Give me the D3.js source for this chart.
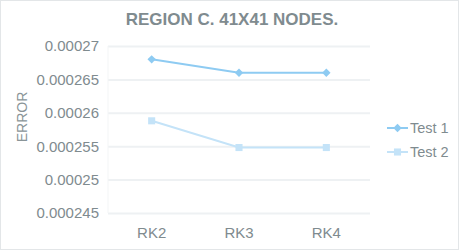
<!DOCTYPE html>
<html lang="en">
<head>
    <meta charset="UTF-8">
    <title>Region C. 41x41 nodes</title>
    <style>
        body { margin: 0; background: #fff; }
        svg { display: block; font-family: Arial, "Liberation Sans", sans-serif; }
    </style>
    <script src="https://d3js.org/d3.v7.min.js"></script>
</head>
<body>
    <div id="chart"></div>
    <script>
        const methods = ["RK2", "RK3", "RK4"];
        const test1 = [0.000268, 0.000266, 0.000266];
        const test2 = [0.0002588, 0.0002548, 0.0002548];
        const yTicks = [0.000245, 0.00025, 0.000255, 0.00026, 0.000265, 0.00027];
        const seriesNames = ["Test 1", "Test 2"];

        const width = 459, height = 250;
        const margin = { top: 46, right: 89, bottom: 37, left: 108 };
        const textColor = "#7f8b8f";
        const gridColor = "#eef1f3";

        const svg = d3.select("#chart").append("svg")
            .attr("width", width)
            .attr("height", height);

        // outer border
        svg.append("rect")
            .attr("x", 0.5).attr("y", 0.5)
            .attr("width", width - 1).attr("height", height - 1)
            .attr("fill", "#fff")
            .attr("stroke", "#e3e6e8");

        const x = d3.scaleBand()
            .domain(methods)
            .range([margin.left, width - margin.right]);

        const y = d3.scaleLinear()
            .domain([0.000245, 0.00027])
            .range([height - margin.bottom, margin.top]);

        // gridlines + y labels
        const yAxis = svg.append("g")
            .attr("transform", `translate(${margin.left},0)`)
            .call(d3.axisLeft(y)
                .tickValues(yTicks)
                .tickSize(-(width - margin.left - margin.right))
                .tickPadding(9)
                .tickFormat(d => String(+d.toPrecision(6))));
        yAxis.select(".domain").remove();
        yAxis.selectAll(".tick line").attr("stroke", gridColor).attr("stroke-width", 2);
        yAxis.selectAll(".tick text")
            .attr("fill", textColor)
            .style("font-size", "15px");

        svg.append("line")
            .attr("x1", margin.left).attr("x2", margin.left)
            .attr("y1", margin.top).attr("y2", height - margin.bottom)
            .attr("stroke", "#f3f5f6");

        // x labels
        const xAxis = svg.append("g")
            .attr("transform", `translate(0,${height - margin.bottom})`)
            .call(d3.axisBottom(x).tickSize(0).tickPadding(14));
        xAxis.select(".domain").remove();
        xAxis.selectAll(".tick text")
            .attr("fill", textColor)
            .style("font-size", "15px");

        // title
        svg.append("text")
            .attr("x", 232).attr("y", 25)
            .attr("text-anchor", "middle")
            .attr("fill", textColor)
            .style("font-size", "17px")
            .style("font-weight", "bold")
            .text("REGION C. 41X41 NODES.");

        // y axis title
        svg.append("text")
            .attr("transform", "translate(27,117) rotate(-90)")
            .attr("text-anchor", "middle")
            .attr("fill", "#8a9598")
            .style("font-size", "14px")
            .text("ERROR");

        const cx = d => x(d) + x.bandwidth() / 2;
        const line = d3.line().x((d, i) => cx(methods[i])).y(d => y(d));

        const series = [
            { name: seriesNames[0], values: test1, color: "#8ecbf2", shape: d3.symbolDiamond2, size: 45 },
            { name: seriesNames[1], values: test2, color: "#c4e3f8", shape: d3.symbolSquare, size: 50 }
        ];

        series.forEach(s => {
            svg.append("path")
                .datum(s.values)
                .attr("d", line)
                .attr("fill", "none")
                .attr("stroke", s.color)
                .attr("stroke-width", 2);
            svg.selectAll(null)
                .data(s.values)
                .enter()
                .append("path")
                .attr("transform", (d, i) => `translate(${cx(methods[i])},${y(d)})`)
                .attr("d", d3.symbol().type(s.shape).size(s.size))
                .attr("fill", s.color);
        });

        // legend
        const legend = svg.append("g").attr("transform", "translate(387,128)");
        series.forEach((s, i) => {
            const g = legend.append("g").attr("transform", `translate(0,${i * 24})`);
            g.append("line")
                .attr("x1", 0).attr("x2", 21)
                .attr("stroke", s.color).attr("stroke-width", 2);
            g.append("path")
                .attr("transform", "translate(10.5,0)")
                .attr("d", d3.symbol().type(s.shape).size(s.size))
                .attr("fill", s.color);
            g.append("text")
                .attr("x", 23).attr("y", 5)
                .attr("fill", textColor)
                .style("font-size", "14.5px")
                .text(s.name);
        });
    </script>
</body>
</html>
